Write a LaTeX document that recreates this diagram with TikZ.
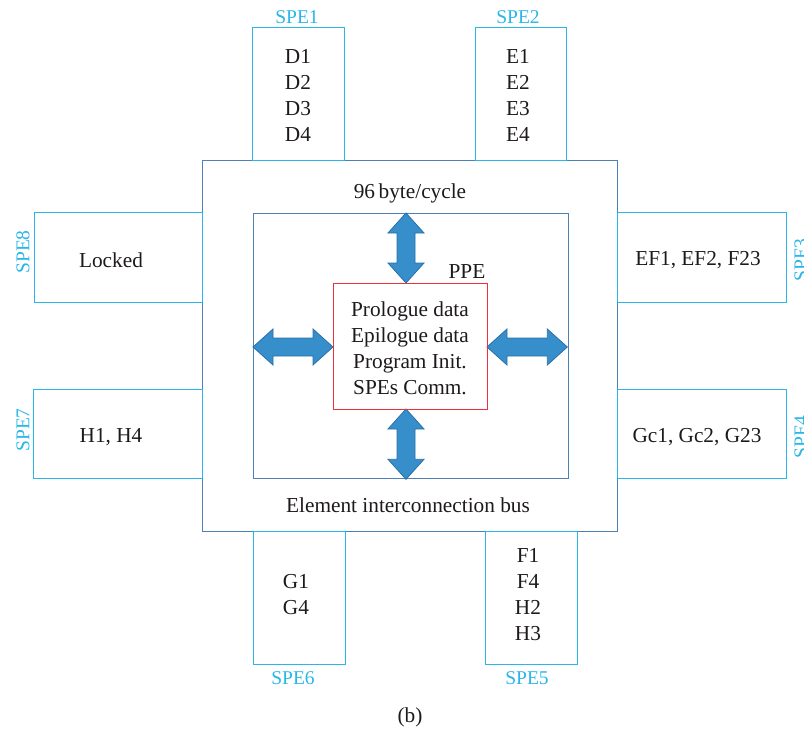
\documentclass[tikz,border=0pt]{standalone}
\usepackage{fontspec}
\setmainfont{Liberation Serif}
\usetikzlibrary{calc}

\definecolor{speblue}{RGB}{41,182,232}
\definecolor{busblue}{RGB}{78,128,182}
\definecolor{ppered}{RGB}{235,50,60}
\definecolor{arrowfill}{RGB}{54,142,202}
\definecolor{arrowline}{RGB}{42,112,170}
\definecolor{inktext}{RGB}{30,26,27}

\tikzset{
  spebox/.style={draw=speblue, line width=1.3pt, rectangle, inner sep=0pt, anchor=north west},
  busbox/.style={draw=busblue, line width=1.3pt, rectangle, inner sep=0pt, anchor=north west},
  ppebox/.style={draw=ppered, line width=1.4pt, rectangle, inner sep=0pt, anchor=north west},
  bodytext/.style={text=inktext, font=\fontsize{21.3}{26}\selectfont, align=center, inner sep=0pt},
  spelabel/.style={text=speblue, font=\fontsize{19.5}{23}\selectfont, inner sep=0pt},
  blockarrow/.style={fill=arrowfill, draw=arrowline, line width=0.8pt, line join=miter}
}

% horizontal double block arrow between a left tip and a right tip
\newcommand\hdarrow[2]{\draw[blockarrow] (#1) -- ++(20,-18) -- ++(0,9) -- ($(#2)+(-20,-9)$) -- ++(0,-9) -- (#2) -- ++(-20,18) -- ++(0,-9) -- ($(#1)+(20,9)$) -- ++(0,9) -- cycle;}
% vertical double block arrow between a top tip and a bottom tip
\newcommand\vdarrow[2]{\draw[blockarrow] (#1) -- ++(18,20) -- ++(-9,0) -- ($(#2)+(9,-20)$) -- ++(9,0) -- (#2) -- ++(-18,-20) -- ++(9,0) -- ($(#1)+(-9,20)$) -- ++(-9,0) -- cycle;}

\begin{document}
\begin{tikzpicture}[x=1pt,y=-1pt]
\useasboundingbox (0,0) rectangle (804,731);

% element interconnection bus and PPE
\node[busbox, minimum width=415pt, minimum height=371pt] (bus) at (202,160) {};
\node[busbox, minimum width=315pt, minimum height=265pt] (inner) at (253,213) {};

% block arrows between the bus and the PPE
\coordinate (ppeN) at (406,283);
\coordinate (ppeS) at (406,409);
\coordinate (ppeW) at (333,347);
\coordinate (ppeE) at (487,347);
\coordinate (atop) at (ppeN |- inner.north);
\coordinate (abot) at (ppeS |- inner.south);
\coordinate (aleft) at (inner.west |- ppeW);
\coordinate (aright) at ($(inner.east |- ppeE)+(-2,0)$);
\vdarrow{atop}{ppeN}
\vdarrow{ppeS}{abot}
\hdarrow{aleft}{ppeW}
\hdarrow{ppeE}{aright}

\node[ppebox, minimum width=154pt, minimum height=126pt] (ppe) at (333,283) {};
\node[bodytext] (ppetxt) at (410,348) {Prologue data\\Epilogue data\\Program Init.\\SPEs Comm.};
\node[bodytext] (ppelbl) at (467,272) {PPE};
\node[bodytext] (rate) at (410,193) {96\,byte/cycle};
\node[bodytext] (buslbl) at (408,505) {Element interconnection bus};

% SPE1 and SPE2 on top
\node[spebox, minimum width=92pt, minimum height=133pt] (spe1) at (252,27) {};
\node[spebox, minimum width=91pt, minimum height=133pt] (spe2) at (475,27) {};
\node[bodytext] (d) at (298,95) {D1\\D2\\D3\\D4};
\node[bodytext] (e) at (518,95) {E1\\E2\\E3\\E4};
\node[spelabel] (l1) at (297,17) {SPE1};
\node[spelabel] (l2) at (518,17) {SPE2};

% SPE8 and SPE7 on the left
\node[spebox, minimum width=168pt, minimum height=90pt] (spe8) at (34,212) {};
\node[spebox, minimum width=169pt, minimum height=89pt] (spe7) at (33,389) {};
\node[bodytext] (lk) at (111,260) {Locked};
\node[bodytext] (h) at (111,437) {H1, H4};
\node[spelabel, rotate=90] (l8) at (23,252) {SPE8};
\node[spelabel, rotate=90] (l7) at (23,430) {SPE7};

% SPE3 and SPE4 on the right, labels running off the edge
\node[spebox, minimum width=169pt, minimum height=90pt] (spe3) at (617,212) {};
\node[spebox, minimum width=169pt, minimum height=89pt] (spe4) at (617,389) {};
\node[bodytext] (ef) at (698,260) {EF1, EF2, F23};
\node[bodytext] (gc) at (697,437) {Gc1, Gc2, G23};
\node[spelabel, rotate=90] (l3) at (801,260) {SPE3};
\node[spelabel, rotate=90] (l4) at (801,437) {SPE4};

% SPE6 and SPE5 at the bottom
\node[spebox, minimum width=92pt, minimum height=133pt] (spe6) at (253,531) {};
\node[spebox, minimum width=92pt, minimum height=133pt] (spe5) at (485,531) {};
\node[bodytext] (g) at (296,595) {G1\\G4};
\node[bodytext] (fh) at (528,595) {F1\\F4\\H2\\H3};
\node[spelabel] (l6) at (293,678) {SPE6};
\node[spelabel] (l5) at (527,678) {SPE5};

\node[bodytext] (cap) at (410,717) {(b)};
\end{tikzpicture}
\end{document}
